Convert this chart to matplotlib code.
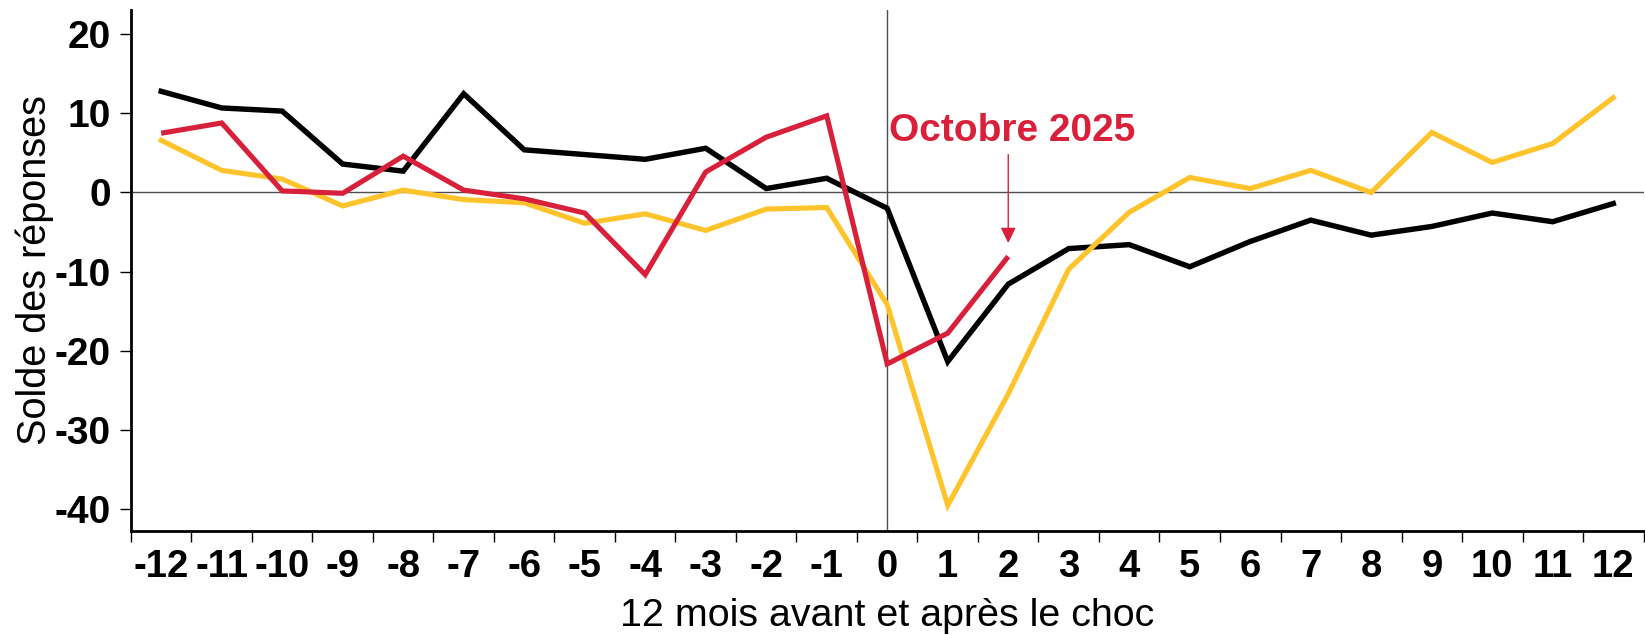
import matplotlib
matplotlib.use("Agg")
import matplotlib.pyplot as plt
import numpy as np

plt.rcParams["font.family"] = ["Liberation Sans", "DejaVu Sans"]

# months around the shock
months = list(range(-12, 13))
month_labels = [str(m) for m in months]

# series values (solde des réponses)
black_vals = [12.8, 10.7, 10.3, 3.6, 2.7, 12.5, 5.4, 4.8, 4.2, 5.6, 0.5, 1.8, -2.0,
              -21.4, -11.6, -7.1, -6.6, -9.4, -6.2, -3.5, -5.4, -4.3, -2.6, -3.7, -1.4]
yellow_vals = [6.6, 2.8, 1.7, -1.7, 0.3, -0.9, -1.3, -3.9, -2.7, -4.8, -2.1, -1.9, -14.2,
               -39.6, -25.5, -9.7, -2.5, 1.9, 0.5, 2.8, 0.0, 7.6, 3.8, 6.2, 12.0]
red_vals = [7.5, 8.8, 0.2, -0.1, 4.6, 0.3, -0.8, -2.6, -10.4, 2.6, 7.0, 9.7, -21.7,
            -17.8, -8.1]
red_months = months[:len(red_vals)]

yticks = [-40, -30, -20, -10, 0, 10, 20]

annot_text = "Octobre 2025"
annot_month = 2

RED = "#D8203A"
YELLOW = "#FFC32B"
BLACK = "#000000"

fig = plt.figure(figsize=(16.45, 6.35), dpi=100)
ax = fig.add_axes([0.0796, 0.1643, 0.9195, 0.820])

ax.axhline(0, color="#4d4d4d", lw=1.0, zorder=1)
ax.axvline(0, color="#4d4d4d", lw=1.0, zorder=1)

ax.plot(months, black_vals, color=BLACK, lw=3.9, zorder=3, solid_joinstyle="miter")
ax.plot(months, yellow_vals, color=YELLOW, lw=3.7, zorder=4, solid_joinstyle="miter")
ax.plot(red_months, red_vals, color=RED, lw=3.7, zorder=5, solid_joinstyle="miter",
        solid_capstyle="butt")

ax.annotate("", xy=(annot_month, -6.4), xytext=(annot_month, 4.8),
            arrowprops=dict(arrowstyle="-|>,head_length=0.47,head_width=0.23",
                            color=RED, lw=1.0, shrinkA=0, shrinkB=0,
                            mutation_scale=20))
ax.text(0.035, 6.5, annot_text, color=RED, fontsize=28, fontweight="bold",
        ha="left", va="baseline")

ax.set_xlim(-12.5, 12.5)
ax.set_ylim(-42.8, 23.1)

ax.set_xticks(months)
ax.set_xticklabels(month_labels)
ax.set_xticks(np.arange(-12.5, 12.6, 1.0), minor=True)
ax.tick_params(axis="x", which="major", length=0, pad=13, labelsize=27.5)
ax.tick_params(axis="x", which="minor", length=8, width=1.0, direction="out")
for lab in ax.get_xticklabels():
    lab.set_fontweight("bold")

ax.set_yticks(yticks)
ax.set_yticklabels([str(v) for v in yticks])
ax.tick_params(axis="y", which="major", length=8, width=1.0, pad=6.3, labelsize=28,
               direction="out")
for lab in ax.get_yticklabels():
    lab.set_fontweight("bold")

for side in ["top", "right"]:
    ax.spines[side].set_visible(False)
ax.spines["left"].set_linewidth(2.0)
ax.spines["bottom"].set_linewidth(2.0)

ax.set_xlabel("12 mois avant et après le choc", fontsize=28.4)
ax.xaxis.set_label_coords(0.5, -0.129)
ax.set_ylabel("Solde des réponses", fontsize=28.5)
ax.yaxis.set_label_coords(-0.051, 0.5)

fig.savefig("out.png", dpi=100)
